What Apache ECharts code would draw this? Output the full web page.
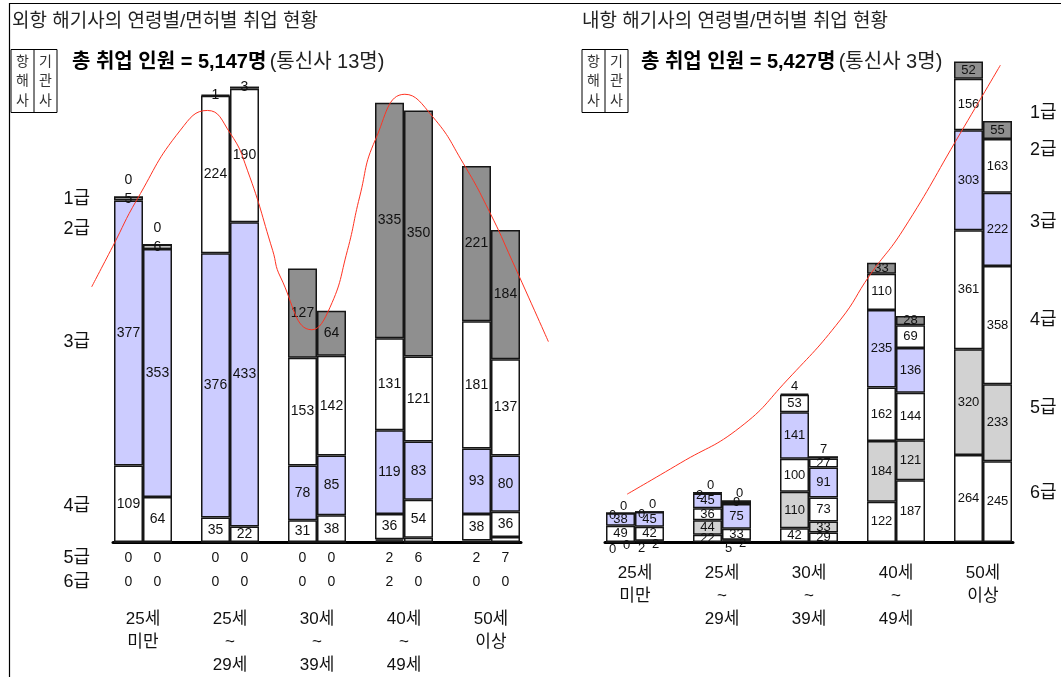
<!DOCTYPE html>
<html>
<head>
<meta charset="utf-8">
<script src="https://cdn.jsdelivr.net/npm/echarts@6/dist/echarts.min.js"></script>
<style>
  html, body { margin: 0; padding: 0; background: #fff; }
  #chart { width: 1061px; height: 677px; }
</style>
</head>
<body>
<div id="chart"></div>
<script>
// Age groups (x categories) and licence grades
const ageGroups = ['25세\n미만', '25세\n~\n29세', '30세\n~\n39세', '40세\n~\n49세', '50세\n이상'];
const gradeNames = ['1급', '2급', '3급', '4급', '5급', '6급'];

// 외항 (ocean-going): rows = 1급 … 6급, columns = age groups
const oceanNav = [
  [0, 1, 127, 335, 221],
  [5, 224, 153, 131, 181],
  [377, 376, 78, 119, 93],
  [109, 35, 31, 36, 38],
  [0, 0, 0, 2, 2],
  [0, 0, 0, 2, 0]
];
const oceanEng = [
  [0, 3, 64, 350, 184],
  [6, 190, 142, 121, 137],
  [353, 433, 85, 83, 80],
  [64, 22, 38, 54, 36],
  [0, 0, 0, 6, 7],
  [0, 0, 0, 0, 0]
];

// 내항 (coastal): rows = 1급 … 6급, columns = age groups
const coastalNav = [
  [0, 0, 4, 33, 52],
  [0, 2, 53, 110, 156],
  [38, 45, 141, 235, 303],
  [49, 36, 100, 162, 361],
  [0, 44, 110, 184, 320],
  [0, 22, 42, 122, 264]
];
const coastalEng = [
  [0, 0, 7, 28, 55],
  [0, 9, 27, 69, 163],
  [45, 75, 91, 136, 222],
  [42, 33, 73, 144, 358],
  [2, 2, 33, 121, 233],
  [2, 5, 29, 187, 245]
];

// Trend curves: [age-group position, head count]
const oceanTrend = [
  [-0.59, 363], [-0.35, 420], [-0.07, 487], [0.43, 586], [0.74, 614],
  [1.0, 582], [1.2, 529], [1.49, 415], [1.58, 377], [1.94, 302],
  [2.15, 334], [2.35, 415], [2.49, 491], [2.67, 572], [3.01, 637],
  [3.33, 605], [3.68, 539], [3.99, 468], [4.24, 401], [4.66, 285]
];
const coastalTrend = [
  [-0.09, 145], [0.52, 239], [1.21, 348], [1.75, 491],
  [2.36, 673], [2.70, 809], [3.08, 945], [3.74, 1239], [4.20, 1445]
];

const FONT = "'Liberation Sans', 'Noto Sans CJK KR', sans-serif";
const LAVENDER = '#ccccff';
const DARK = '#8f8f8f';
const LIGHT = '#d2d2d2';
const oceanColors = [DARK, '#ffffff', LAVENDER, '#ffffff', '#ffffff', '#ffffff'];
const coastalColors = [DARK, '#ffffff', LAVENDER, '#ffffff', LIGHT, '#ffffff'];
const ticks = [0, 1, 2, 3, 4];

// Each panel uses three overlapping grids sharing one vertical scale:
// bars (category axis), baseline + text rows, and the trend curve.
const TOP = [50, 47];
const BOTTOM = 135;
const YMAX = [700, 1500];

// label placement for small / empty segments
function oceanLabel(g, v) {
  if (g >= 4) return { show: false };
  if (g === 0 && v === 0) return { position: 'top', distance: 9 };
  return null;
}
function coastalLabel(g, v) {
  if (g === 5 && v < 10) return { position: 'bottom', distance: 0, offset: [-8, 0] };
  if (g === 4 && v < 10) return { position: 'inside', offset: [6, 3] };
  if (g === 1 && v < 3) return { position: 'inside', offset: [-8, 2] };
  if (g === 0 && v < 10) return { position: 'top', distance: 0, offset: [v === 0 ? 3 : 0, 0] };
  return null;
}

function stackSeries(rows, stack, axisIdx, colors, labelFn, fontSize) {
  const out = [];
  for (let g = rows.length - 1; g >= 0; g--) {
    out.push({
      type: 'bar',
      name: stack + gradeNames[g],
      stack: stack,
      xAxisIndex: axisIdx,
      yAxisIndex: axisIdx,
      barWidth: 29,
      barGap: '0%',
      itemStyle: { color: colors[g], borderColor: '#161616', borderWidth: 1.5 },
      label: {
        show: true, position: 'inside', color: '#111',
        fontFamily: FONT, fontSize: fontSize,
        formatter: p => String(p.value)
      },
      emphasis: { disabled: true },
      data: rows[g].map(v => {
        const item = { value: v };
        const l = labelFn(g, v);
        if (l) item.label = l;
        return item;
      })
    });
  }
  return out;
}

function trendSeries(points, axisIdx) {
  return {
    type: 'line', xAxisIndex: axisIdx, yAxisIndex: axisIdx, data: points,
    smooth: true, showSymbol: false, silent: true, z: 5,
    lineStyle: { color: '#ff3322', width: 1 }
  };
}

const hiddenY = (gi, p) => ({ gridIndex: gi, type: 'value', min: 0, max: YMAX[p], show: false });

function catAxis(gi) {
  return {
    gridIndex: gi, type: 'category', data: ageGroups, show: false
  };
}
function baseAxis(gi) {
  return {
    gridIndex: gi, type: 'value', min: -0.345, max: 4.345, position: 'bottom',
    axisLine: { show: true, onZero: false, lineStyle: { color: '#000', width: 3 } },
    axisTick: { show: false }, axisLabel: { show: false }, splitLine: { show: false }
  };
}
function labelAxis(gi, margin, formatter, extra) {
  return {
    gridIndex: gi, type: 'value', min: -0.345, max: 4.345, position: 'bottom',
    axisLine: { show: false }, axisTick: { show: false }, splitLine: { show: false },
    axisLabel: Object.assign({
      show: true, customValues: ticks, margin: margin, formatter: formatter,
      color: '#111', fontFamily: FONT
    }, extra)
  };
}
function trendAxis(gi, max) {
  return { gridIndex: gi, type: 'value', min: -1, max: max, show: false };
}
const pairRich = { c: { width: 29, align: 'center', fontSize: 14, fontFamily: FONT, color: '#111' } };
const pairRow = (a, b) => v => { const i = Math.round(v); return '{c|' + a[i] + '}{c|' + b[i] + '}'; };
const catFmt = v => ageGroups[Math.round(v)];

function txt(x, y, text, size, align, extra) {
  return {
    type: 'text', silent: true,
    style: Object.assign({
      x: x, y: y, text: text, fill: '#222', align: align || 'left', verticalAlign: 'middle',
      font: size + 'px ' + FONT
    }, extra || {})
  };
}
function legendBox(x) {
  return [
    { type: 'rect', silent: true, shape: { x: x, y: 49.5, width: 46, height: 63 },
      style: { fill: 'none', stroke: '#000', lineWidth: 1 } },
    { type: 'line', silent: true, shape: { x1: x + 23, y1: 49.5, x2: x + 23, y2: 112.5 },
      style: { stroke: '#000', lineWidth: 1 } },
    txt(x + 11.5, 52, '항\n해\n사', 14, 'center', { verticalAlign: 'top', lineHeight: 19.5, fill: '#333' }),
    txt(x + 34.5, 52, '기\n관\n사', 14, 'center', { verticalAlign: 'top', lineHeight: 19.5, fill: '#333' })
  ];
}
function subtitle(x, total, radio) {
  return {
    type: 'text', silent: true,
    style: {
      x: x, y: 62, verticalAlign: 'middle',
      text: '{b|총 취업 인원 = ' + total + '명} {n|(통신사 ' + radio + '명)}',
      rich: {
        b: { font: 'bold 20px ' + FONT, fill: '#000' },
        n: { font: '20px ' + FONT, fill: '#222' }
      }
    }
  };
}

const leftGradeY = [199, 229, 342, 506, 558, 582];
const rightGradeY = [113, 150, 222, 320, 408, 493];

const graphic = [
  { type: 'polyline', silent: true, shape: { points: [[9.5, 677], [9.5, 3.5], [1061, 3.5]] },
    style: { stroke: '#000', lineWidth: 1.2, fill: 'none' } },
  txt(12, 22, '외항 해기사의 연령별/면허별 취업 현황', 19),
  txt(582, 22, '내항 해기사의 연령별/면허별 취업 현황', 19),
  subtitle(72, '5,147', 13),
  subtitle(641, '5,427', 3),
  ...legendBox(11),
  ...legendBox(582),
  ...gradeNames.map((g, i) => txt(90, leftGradeY[i], g, 18, 'right', { fill: '#111' })),
  ...gradeNames.map((g, i) => txt(1030, rightGradeY[i], g, 18, 'left', { fill: '#111' }))
];

const option = {
  animation: false,
  backgroundColor: '#fff',
  textStyle: { fontFamily: FONT },
  grid: [
    // 외항: bars, baseline/rows, trend
    { left: 99.5, right: 526.5, top: TOP[0], bottom: BOTTOM },
    { left: 113, right: 540, top: TOP[0], bottom: BOTTOM },
    { left: 56, right: 483, top: TOP[0], bottom: BOTTOM },
    // 내항: bars, baseline/rows, trend
    { left: 591.5, right: 34.5, top: TOP[1], bottom: BOTTOM },
    { left: 605, right: 48, top: TOP[1], bottom: BOTTOM },
    { left: 548, right: 8.4, top: TOP[1], bottom: BOTTOM }
  ],
  xAxis: [
    catAxis(0),
    trendAxis(2, 5),
    catAxis(3),
    trendAxis(5, 4.8),
    baseAxis(1),
    labelAxis(1, 9, pairRow(oceanNav[4], oceanEng[4]), { rich: pairRich }),
    labelAxis(1, 33, pairRow(oceanNav[5], oceanEng[5]), { rich: pairRich }),
    labelAxis(1, 65.5, catFmt, { fontSize: 17, lineHeight: 23 }),
    baseAxis(4),
    labelAxis(4, 19.5, catFmt, { fontSize: 17, lineHeight: 23 })
  ],
  yAxis: [
    hiddenY(0, 0),
    hiddenY(2, 0),
    hiddenY(3, 1),
    hiddenY(5, 1),
    hiddenY(1, 0),
    hiddenY(4, 1)
  ],
  series: [
    ...stackSeries(oceanNav, 'oceanNav', 0, oceanColors, oceanLabel, 14),
    ...stackSeries(oceanEng, 'oceanEng', 0, oceanColors, oceanLabel, 14),
    ...stackSeries(coastalNav, 'coastalNav', 2, coastalColors, coastalLabel, 13),
    ...stackSeries(coastalEng, 'coastalEng', 2, coastalColors, coastalLabel, 13),
    trendSeries(oceanTrend, 1),
    trendSeries(coastalTrend, 3)
  ],
  graphic: graphic
};

const chart = echarts.init(document.getElementById('chart'), null, { renderer: 'canvas' });
chart.setOption(option);
</script>
</body>
</html>
